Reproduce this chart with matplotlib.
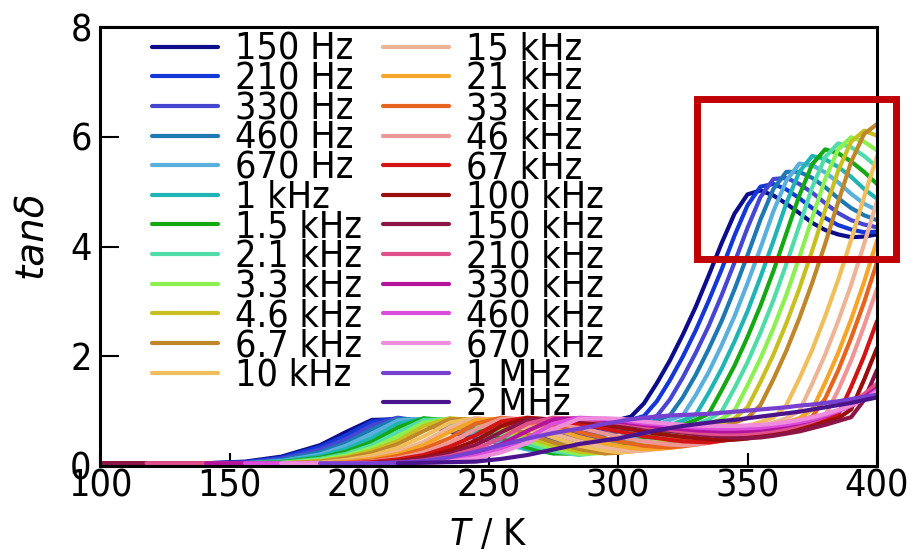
import numpy as np
import matplotlib
matplotlib.use("Agg")
import matplotlib.pyplot as plt
from matplotlib.patches import Rectangle

NA = np.nan

# Temperature grid (K) shared by every frequency curve
temperature = [100, 118, 141, 156, 170, 185, 195, 205, 215, 225, 235, 245, 255, 265, 275, 285, 295,
               300, 305, 310, 315, 320, 325, 330, 335, 340, 345, 350, 355, 360, 365, 370, 375, 380,
               385, 390, 395, 400]

freq_labels = ["150 Hz", "210 Hz", "330 Hz", "460 Hz", "670 Hz", "1 kHz", "1.5 kHz", "2.1 kHz",
               "3.3 kHz", "4.6 kHz", "6.7 kHz", "10 kHz", "15 kHz", "21 kHz", "33 kHz", "46 kHz",
               "67 kHz", "100 kHz", "150 kHz", "210 kHz", "330 kHz", "460 kHz", "670 kHz", "1 MHz",
               "2 MHz"]

colors = ["#0d0d8c", "#1437d6", "#4646d2", "#1e78b4", "#5ab0dc", "#20b4b4", "#14a814", "#50dca8",
          "#8cf050", "#c8c020", "#c0862a", "#f0be5a", "#eeb496", "#f5a528", "#e6641e", "#ee9696",
          "#d21414", "#9a0e0e", "#8c1446", "#e0508c", "#b4149c", "#dc4cdc", "#f08cdc", "#7840d0",
          "#4a148c"]

# tan(delta) for each measuring frequency on the grid above
tan_150Hz = [.05, .05, .05, .08, .17, .38, .62, .84, .85, .77, .63, .51, .45, .49, .56, .66, .77,
             .84, .90, 1.14, 1.51, 1.92, 2.39, 2.90, 3.47, 4.06, 4.60, 4.95, 5.02, 4.93, 4.78, 4.61,
             4.43, 4.30, 4.22, 4.17, 4.18, 4.22]
tan_210Hz = [.05, .05, .05, .07, .15, .35, .56, .81, .87, .79, .65, .51, .43, .44, .51, .60, .71,
             .77, .84, .91, 1.18, 1.56, 1.99, 2.47, 3.01, 3.58, 4.20, 4.75, 5.09, 5.14, 5.04, 4.88,
             4.70, 4.52, 4.39, 4.31, 4.26, 4.27]
tan_330Hz = [.05, .05, .05, .06, .13, .30, .49, .74, .88, .81, .67, .52, .41, .39, .45, .53, .65,
             .71, .77, .85, .91, 1.21, 1.61, 2.06, 2.55, 3.11, 3.71, 4.34, 4.90, 5.23, 5.25, 5.14,
             4.98, 4.79, 4.61, 4.48, 4.40, 4.35]
tan_460Hz = [.05, .05, .05, .05, .11, .25, .42, .67, .86, .84, .71, .54, .40, .33, .38, .46, .57,
             .63, .69, .76, .84, .92, 1.25, 1.66, 2.13, 2.64, 3.22, 3.84, 4.49, 5.05, 5.36, 5.36,
             5.25, 5.08, 4.88, 4.70, 4.57, 4.48]
tan_670Hz = [.05, .05, .05, .05, .09, .21, .37, .59, .83, .86, .76, .58, .41, .30, .29, .36, .47,
             .52, .60, .67, .75, .84, .92, 1.29, 1.71, 2.20, 2.73, 3.33, 3.97, 4.64, 5.20, 5.51,
             5.48, 5.35, 5.17, 4.96, 4.78, 4.66]
tan_1kHz = [.05, .05, .05, .05, .08, .18, .31, .51, .77, .86, .80, .64, .46, .31, .23, .27, .37,
            .43, .50, .58, .66, .74, .83, .93, 1.33, 1.77, 2.27, 2.82, 3.44, 4.10, 4.79, 5.36,
            5.65, 5.59, 5.45, 5.27, 5.05, 4.87]
tan_1k5Hz = [.05, .05, .05, .05, .07, .15, .26, .44, .70, .87, .83, .70, .51, .34, .23, .22, .31,
             .36, .43, .50, .57, .66, .75, .84, .95, 1.38, 1.83, 2.35, 2.92, 3.55, 4.24, 4.93,
             5.50, 5.77, 5.70, 5.55, 5.36, 5.14]
tan_2k1Hz = [.05, .05, .05, .05, .06, .13, .22, .38, .62, .84, .85, .75, .58, .40, .27, .20, .26,
             .31, .37, .44, .51, .58, .67, .75, .85, .99, 1.42, 1.89, 2.43, 3.02, 3.68, 4.38,
             5.08, 5.63, 5.88, 5.81, 5.65, 5.45]
tan_3k3Hz = [.05, .05, .05, .05, .05, .11, .19, .33, .54, .79, .86, .79, .65, .46, .32, .22, .24,
             .28, .33, .39, .45, .52, .60, .68, .77, .86, 1.01, 1.47, 1.96, 2.51, 3.12, 3.80,
             4.52, 5.23, 5.77, 5.99, 5.91, 5.75]
tan_4k6Hz = [.05, .05, .05, .05, .05, .09, .16, .28, .46, .73, .87, .83, .70, .53, .37, .26, .23,
             .26, .30, .35, .41, .47, .54, .61, .69, .78, .87, 1.07, 1.53, 2.03, 2.60, 3.23,
             3.93, 4.67, 5.38, 5.91, 6.11, 6.02]
tan_6k7Hz = [.05, .05, .05, .05, .05, .08, .14, .24, .40, .64, .85, .85, .75, .59, .43, .31, .23,
             .24, .27, .32, .36, .42, .48, .55, .63, .70, .79, .88, 1.11, 1.58, 2.10, 2.69,
             3.34, 4.05, 4.81, 5.54, 6.05, 6.23]
tan_10kHz = [.05, .05, .05, .05, .05, .06, .11, .19, .33, .54, .79, .87, .81, .68, .52, .37, .28,
             .25, .26, .29, .32, .36, .41, .47, .53, .59, .66, .73, .80, .88, 1.11, 1.59, 2.12,
             2.73, 3.39, 4.12, 4.90, 5.64]
tan_15kHz = [.05, .05, .05, .05, .05, .05, .09, .15, .26, .44, .70, .87, .84, .74, .59, .45, .34,
             .30, .27, .28, .31, .34, .38, .43, .48, .53, .59, .65, .72, .79, .87, 1.00, 1.50,
             2.03, 2.64, 3.30, 4.04, 4.83]
tan_21kHz = [.05, .05, .05, .05, .05, .05, .08, .13, .22, .38, .62, .84, .86, .79, .68, .53, .41,
             .37, .33, .31, .31, .33, .36, .40, .44, .49, .54, .60, .66, .73, .80, .87, 1.03,
             1.52, 2.06, 2.67, 3.35, 4.11]
tan_33kHz = [.05, .05, .05, .05, .05, .05, .06, .10, .18, .31, .51, .77, .88, .83, .75, .62, .50,
             .45, .41, .37, .35, .34, .36, .39, .43, .47, .52, .58, .63, .69, .76, .83, .90, 1.23,
             1.74, 2.33, 2.98, 3.71]
tan_46kHz = [.05, .05, .05, .05, .05, .05, .05, .08, .14, .25, .42, .67, .86, .86, .80, .70, .59,
             .54, .49, .45, .42, .39, .38, .39, .42, .46, .50, .55, .60, .66, .72, .78, .85, .92,
             1.38, 1.92, 2.55, 3.23]
tan_67kHz = [.05, .05, .05, .05, .05, .05, .05, .07, .12, .20, .35, .56, .81, .88, .84, .77, .68,
             .63, .59, .54, .51, .48, .45, .44, .43, .46, .49, .52, .57, .62, .67, .73, .79, .86,
             .93, 1.44, 2.00, 2.64]
tan_100kHz = [.05, .05, .05, .05, .05, .05, .05, .05, .09, .16, .28, .46, .73, .87, .85, .82, .75,
              .71, .67, .63, .59, .56, .53, .51, .49, .47, .48, .50, .54, .58, .63, .68, .74, .80,
              .87, 1.03, 1.57, 2.15]
tan_150kHz = [.05, .05, .05, .05, .05, .05, .05, .05, .08, .13, .22, .38, .62, .84, .86, .84, .80,
              .77, .74, .70, .67, .64, .61, .58, .56, .54, .52, .51, .52, .55, .59, .63, .69, .75,
              .82, .89, 1.20, 1.75]
tan_210kHz = [NA, .05, .05, .05, .05, .05, .05, .05, .06, .10, .18, .31, .51, .77, .88, .86, .82,
              .79, .76, .72, .69, .66, .63, .61, .59, .58, .58, .59, .61, .64, .68, .74, .81, .90,
              1.01, 1.15, 1.31, 1.50]
tan_330kHz = [NA, NA, .05, .05, .05, .05, .05, .05, .05, .08, .14, .24, .40, .64, .85, .87, .84,
              .81, .78, .75, .72, .69, .67, .65, .64, .63, .63, .64, .66, .69, .73, .78, .84, .91,
              1.00, 1.11, 1.25, 1.42]
tan_460kHz = [NA, NA, NA, .05, .05, .05, .05, .05, .05, .06, .10, .18, .31, .51, .77, .88, .86,
              .84, .81, .78, .76, .74, .72, .70, .69, .68, .68, .69, .70, .73, .76, .80, .85, .92,
              1.00, 1.10, 1.22, 1.38]
tan_670kHz = [NA, NA, NA, NA, .05, .05, .05, .05, .05, .05, .08, .14, .25, .42, .67, .86, .87,
              .86, .84, .81, .79, .77, .75, .74, .73, .73, .73, .74, .75, .77, .80, .84, .89, .95,
              1.02, 1.11, 1.22, 1.35]
tan_1MHz = [NA, NA, NA, NA, NA, .05, .05, .05, .06, .09, .16, .26, .38, .50, .60, .68, .77,
            .81, .85, .88, .90, .92, .93, .94, .95, .97, .99, 1.01, 1.03, 1.05, 1.07, 1.10, 1.12,
            1.15, 1.18, 1.22, 1.26, 1.30]
tan_2MHz = [NA, NA, NA, NA, NA, NA, NA, NA, .05, .06, .07, .08, .13, .20, .30, .40, .47,
            .50, .55, .60, .65, .69, .73, .76, .79, .82, .84, .87, .90, .93, .96, .99, 1.03,
            1.07, 1.11, 1.15, 1.20, 1.25]

curves = [tan_150Hz, tan_210Hz, tan_330Hz, tan_460Hz, tan_670Hz, tan_1kHz, tan_1k5Hz, tan_2k1Hz,
          tan_3k3Hz, tan_4k6Hz, tan_6k7Hz, tan_10kHz, tan_15kHz, tan_21kHz, tan_33kHz, tan_46kHz,
          tan_67kHz, tan_100kHz, tan_150kHz, tan_210kHz, tan_330kHz, tan_460kHz, tan_670kHz,
          tan_1MHz, tan_2MHz]

plt.rcParams.update({
    "font.family": "DejaVu Sans",
    "font.stretch": "condensed",
    "mathtext.fontset": "custom",
    "mathtext.it": "DejaVu Sans:italic:stretch=condensed",
    "mathtext.rm": "DejaVu Sans:stretch=condensed",
})

fig = plt.figure(figsize=(9.2, 5.53), dpi=100)
ax = fig.add_axes([100 / 920, 1 - 466 / 553, 777 / 920, 439 / 553])

for values, color, label in zip(curves, colors, freq_labels):
    ax.plot(temperature, values, color=color, lw=3, label=label,
            solid_joinstyle="round", solid_capstyle="round")

ax.set_xlim(100, 400)
ax.set_ylim(0, 8)
ax.set_xticks(range(100, 401, 50))
ax.set_yticks(range(0, 9, 2))
ax.set_axisbelow(True)
ax.tick_params(direction="in", labelsize=27, width=1.5, colors="black")
ax.tick_params(axis="y", length=14, pad=6)
ax.tick_params(axis="x", length=9.5, pad=2)
for spine in ax.spines.values():
    spine.set_linewidth(2.2)

ax.set_ylabel("tanδ", fontsize=28, fontstyle="italic", fontstretch="normal")
ax.yaxis.set_label_coords(-0.064, 0.528)
ax.set_xlabel(r"$T$ / K", fontsize=27)
ax.xaxis.set_label_coords(0.5, -0.116)

handles = ax.get_lines()
legend_style = dict(loc="upper left", frameon=False, fontsize=27, handlelength=1.77,
                    handletextpad=0.45, labelspacing=-0.17, borderpad=0, borderaxespad=0)
left_legend = ax.legend(handles[:12], freq_labels[:12], bbox_to_anchor=(0.0669, 0.989),
                        **legend_style)
ax.add_artist(left_legend)
ax.legend(handles[12:], freq_labels[12:], bbox_to_anchor=(0.364, 0.989), **legend_style)

# highlight frame around the high-temperature maxima
ax.add_patch(Rectangle((330.5, 3.77), 76.8, 2.91, fill=False, edgecolor="#c00000", lw=5,
                       clip_on=False, zorder=6))

fig.savefig("out.png", dpi=100)
